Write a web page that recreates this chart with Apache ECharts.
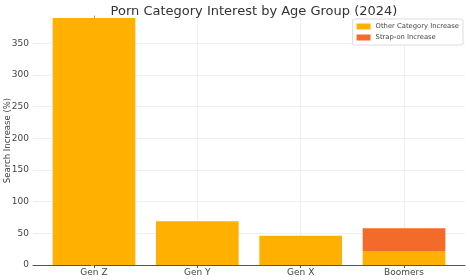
<!DOCTYPE html>
<html><head><meta charset="utf-8">
<script src="https://cdn.jsdelivr.net/npm/echarts@6/dist/echarts.min.js"></script>
<style>html,body{margin:0;padding:0;background:#fff}#c{width:470px;height:280px}</style>
</head><body><div id="c"></div>
<script>
const categories = ['Gen Z', 'Gen Y', 'Gen X', 'Boomers'];
const otherIncrease = [390, 69, 46, 22];
const strapOnIncrease = [0, 0, 0, 36];
const yTicks = [0, 50, 100, 150, 200, 250, 300, 350];
const yMax = 393;

const chart = echarts.init(document.getElementById('c'), null, {renderer: 'canvas'});
const idx = categories.map((c, i) => i);
const PL = 33, PR = 465, TOP = 16, BOTTOM = 15;
const xMin = -0.59, xMax = 3.59;
const unit = (PR - PL) / (xMax - xMin);
const g1Left = PL + (0 - xMin) * unit - unit / 2;
const g1Width = unit * categories.length;
chart.setOption({
  animation: false,
  backgroundColor: '#fff',
  textStyle: {fontFamily: 'DejaVu Sans'},
  title: {
    text: 'Porn Category Interest by Age Group (2024)',
    left: 249, top: 0, textAlign: 'center',
    textStyle: {fontSize: 13, fontWeight: 'normal', color: '#333', fontFamily: 'DejaVu Sans'}
  },
  legend: {
    right: 7, top: 19, orient: 'vertical',
    itemWidth: 14, itemHeight: 6, itemGap: 4,
    padding: [4, 4, 4, 4],
    borderColor: '#ddd', borderWidth: 1, borderRadius: 2,
    backgroundColor: '#fff',
    textStyle: {fontSize: 6.8, color: '#444', fontFamily: 'DejaVu Sans'},
    icon: 'rect',
    data: ['Other Category Increase', 'Strap-on Increase']
  },
  grid: [
    {left: PL, width: PR - PL, top: TOP, bottom: BOTTOM, containLabel: false, outerBoundsMode: 'none'},
    {left: g1Left, width: g1Width, top: TOP, bottom: BOTTOM, containLabel: false, outerBoundsMode: 'none'}
  ],
  xAxis: [
    {
      gridIndex: 0, type: 'value', min: xMin, max: xMax,
      axisLine: {show: true, lineStyle: {color: '#555', width: 1}},
      axisTick: {show: true, customValues: idx, length: 3, lineStyle: {color: '#555'}},
      axisLabel: {customValues: idx, formatter: v => categories[Math.round(v)] || '', fontSize: 9, color: '#444', margin: 3},
      splitLine: {show: true, lineStyle: {color: '#ebebeb', width: 0.8}}
    },
    {
      gridIndex: 1, type: 'category', data: categories, show: false
    }
  ],
  yAxis: [
    {
      gridIndex: 0, type: 'value', min: 0, max: yMax,
      name: 'Search Increase (%)', nameLocation: 'middle', nameGap: 21, nameMoveOverlap: false,
      nameTextStyle: {fontSize: 8.5, color: '#444', fontFamily: 'DejaVu Sans'},
      axisLine: {show: true, lineStyle: {color: '#999', width: 1}},
      axisTick: {show: true, customValues: yTicks, length: 3, lineStyle: {color: '#999'}},
      axisLabel: {customValues: yTicks, fontSize: 9, color: '#444', margin: 4},
      splitLine: {show: true, lineStyle: {color: '#ebebeb', width: 0.8}}
    },
    {
      gridIndex: 1, type: 'value', min: 0, max: yMax, show: false, splitLine: {show: false}
    }
  ],
  series: [
    {
      name: 'Other Category Increase', type: 'bar', stack: 'a',
      xAxisIndex: 1, yAxisIndex: 1,
      barCategoryGap: '20%',
      itemStyle: {color: '#FFB000'},
      data: otherIncrease
    },
    {
      name: 'Strap-on Increase', type: 'bar', stack: 'a',
      xAxisIndex: 1, yAxisIndex: 1,
      barCategoryGap: '20%',
      itemStyle: {color: '#F26B2A'},
      data: strapOnIncrease
    }
  ]
});
</script></body></html>
